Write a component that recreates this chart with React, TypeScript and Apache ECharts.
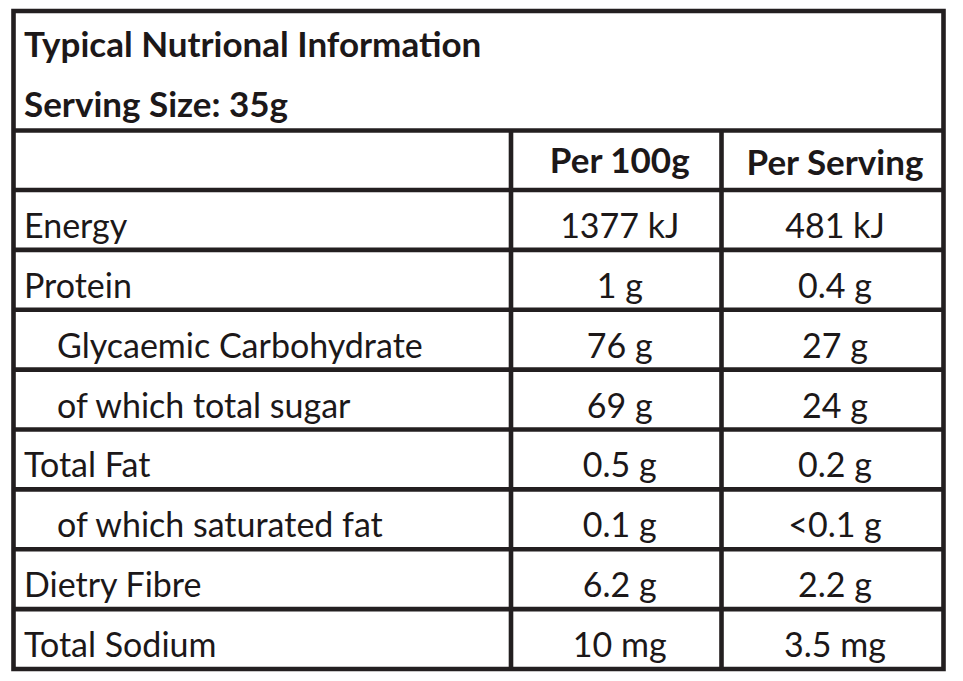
import React, { useEffect, useRef } from "react";
import * as echarts from "echarts";

const title = "Typical Nutrional Information";
const servingSize = "Serving Size: 35g";
const columnHeaders = ["Per 100g", "Per Serving"];
const nutrients = [
  "Energy",
  "Protein",
  "Glycaemic Carbohydrate",
  "of which total sugar",
  "Total Fat",
  "of which saturated fat",
  "Dietry Fibre",
  "Total Sodium",
];
const indentLevel = [0, 0, 1, 1, 0, 1, 0, 0];
const per100g = ["1377 kJ", "1 g", "76 g", "69 g", "0.5 g", "0.1 g", "6.2 g", "10 mg"];
const perServing = ["481 kJ", "0.4 g", "27 g", "24 g", "0.2 g", "<0.1 g", "2.2 g", "3.5 mg"];

// layout (pixels)
const LEFT = 13.5;
const RIGHT = 943.5;
const TOP = 11;
const HEADER_TOP = 130.5;
const HEADER_BOTTOM = 190;
const BOTTOM = 669;
const COL1 = 511;
const COL2 = 721.5;
const LINE_W = 4.6;
const LINE_COLOR = "#231f20";
const TEXT_COLOR = "#1c1819";
const FONT = "Lato";
const FONT_SIZE = 34;
const BOLD_SCALE_X = 1.03;
// offset from text baseline to the 'middle' anchor
const MID_OFFSET = 13;

export default function App() {
  const ref = useRef<HTMLDivElement>(null);
  useEffect(() => {
    document.body.style.margin = "0";
    if (!ref.current) return;
    const chart = echarts.init(ref.current, null, { renderer: "svg" });
    const rowH = (BOTTOM - HEADER_BOTTOM) / nutrients.length;
    const els: any[] = [];
    const txt = (s: string, x: number, baseline: number, bold: boolean, align: string) => ({
      type: "text",
      x,
      y: baseline - MID_OFFSET,
      scaleX: bold ? BOLD_SCALE_X : 1,
      style: {
        text: s,
        fill: TEXT_COLOR,
        font: `${bold ? "bold " : ""}${FONT_SIZE}px ${FONT}`,
        textAlign: align,
        textVerticalAlign: "middle",
      },
    });
    // outer border
    els.push({
      type: "rect",
      shape: { x: LEFT, y: TOP, width: RIGHT - LEFT, height: BOTTOM - TOP },
      style: { fill: "#ffffff", stroke: LINE_COLOR, lineWidth: LINE_W },
    });
    const hline = (y: number) =>
      els.push({
        type: "line",
        shape: { x1: LEFT, y1: y, x2: RIGHT, y2: y },
        style: { stroke: LINE_COLOR, lineWidth: LINE_W },
      });
    const vline = (x: number) =>
      els.push({
        type: "line",
        shape: { x1: x, y1: HEADER_TOP, x2: x, y2: BOTTOM },
        style: { stroke: LINE_COLOR, lineWidth: LINE_W },
      });
    hline(HEADER_TOP);
    hline(HEADER_BOTTOM);
    for (let i = 1; i < nutrients.length; i++) hline(HEADER_BOTTOM + rowH * i);
    vline(COL1);
    vline(COL2);

    els.push(txt(title, 24, 57, true, "left"));
    els.push(txt(servingSize, 24, 117, true, "left"));
    const c1 = (COL1 + COL2) / 2 + 3.5;
    const c2 = (COL2 + RIGHT) / 2 + 2.5;
    els.push(txt(columnHeaders[0], c1, 173, true, "center"));
    els.push(txt(columnHeaders[1], c2, 175, true, "center"));
    nutrients.forEach((n, i) => {
      const base = HEADER_BOTTOM + rowH * (i + 1) - 12.5;
      els.push(txt(n, indentLevel[i] ? 57 : 24, base, false, "left"));
      els.push(txt(per100g[i], c1, base, false, "center"));
      els.push(txt(perServing[i], c2, base, false, "center"));
    });

    chart.setOption({
      animation: false,
      backgroundColor: "#ffffff",
      graphic: { elements: els },
    });
    return () => chart.dispose();
  }, []);
  return <div ref={ref} style={{ width: 963, height: 681 }} />;
}
